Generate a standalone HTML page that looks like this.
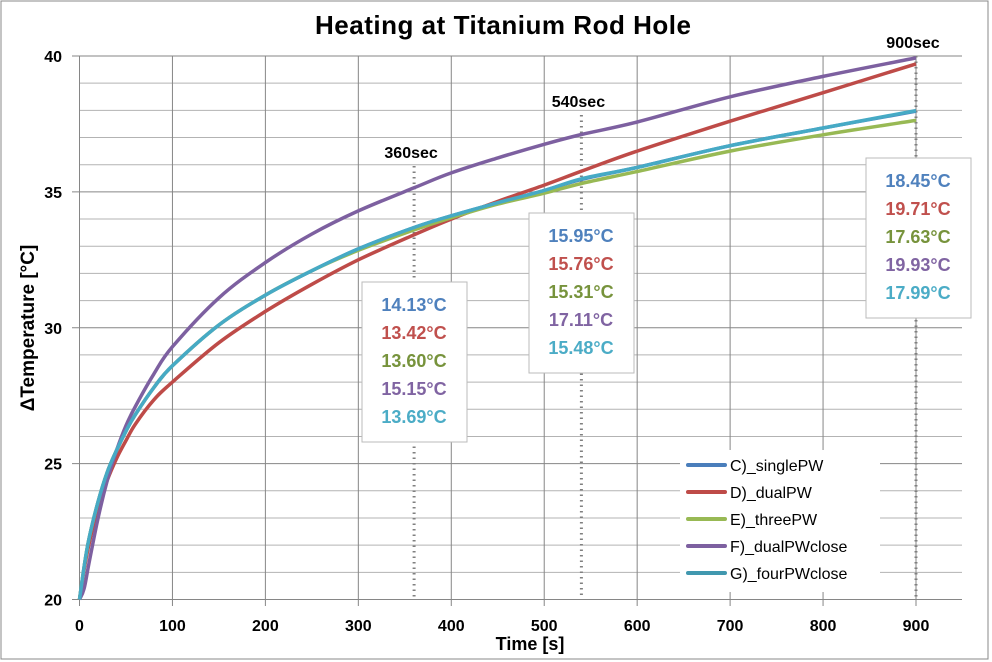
<!DOCTYPE html>
<html><head><meta charset="utf-8"><style>
body{margin:0;background:#fff;}
svg{display:block;font-family:"Liberation Sans",sans-serif;}
</style></head><body>
<svg id="chart" width="992" height="662">
<rect x="1" y="1" width="987" height="658" fill="#fff" stroke="#888"/>
<text x="503" y="34" font-size="26" font-weight="bold" text-anchor="middle" textLength="376">Heating at Titanium Rod Hole</text>
<g id="grid"></g><g id="ticks"></g><g id="annots"></g><g id="series"></g>
<text x="530" y="650" font-size="18" font-weight="bold" text-anchor="middle">Time [s]</text>
<text transform="translate(34,328) rotate(-90)" font-size="19" font-weight="bold" text-anchor="middle">ΔTemperature [°C]</text>
<g id="legend"></g>
</svg>
<script>
const times=[0,5,10,20,30,40,50,60,80,100,150,200,250,300,360,400,450,500,540,600,700,800,900];
const seriesNames=["C)_singlePW","D)_dualPW","E)_threePW","F)_dualPWclose","G)_fourPWclose"];
const seriesC=[20,21.2,22.2,23.6,24.7,25.5,26.2,26.8,27.8,28.6,30.1,31.2,32.1,32.9,33.69,34.12,34.6,35.05,35.46,35.9,36.7,37.35,37.97];
const seriesD=[20,21.1,22.0,23.4,24.4,25.2,25.85,26.45,27.35,28.0,29.45,30.6,31.6,32.5,33.42,34.0,34.65,35.25,35.76,36.5,37.6,38.65,39.71];
const seriesE=[20,21.2,22.2,23.6,24.7,25.5,26.2,26.8,27.8,28.6,30.1,31.2,32.1,32.85,33.6,34.05,34.55,34.95,35.31,35.75,36.5,37.1,37.63];
const seriesF=[20,20.4,21.3,23.0,24.4,25.5,26.4,27.1,28.3,29.3,31.1,32.4,33.45,34.3,35.15,35.7,36.25,36.75,37.11,37.57,38.5,39.25,39.93];
const seriesG=[20,21.2,22.2,23.6,24.7,25.5,26.2,26.8,27.8,28.6,30.1,31.2,32.1,32.9,33.69,34.12,34.6,35.05,35.48,35.9,36.7,37.35,37.99];
const colors=["#4a7ebb","#be4b48","#98b954","#7d60a0","#46aac5"];
const legendColors=["#4a7ebb","#be4b48","#98b954","#7d60a0","#4198af"];
const xTicks=[0,100,200,300,400,500,600,700,800,900];
const yTicks=[20,25,30,35,40];
const markTimes=[360,540,900];
const markLabels=["360sec","540sec","900sec"];
const markValues=[["14.13°C","13.42°C","13.60°C","15.15°C","13.69°C"],["15.95°C","15.76°C","15.31°C","17.11°C","15.48°C"],["18.45°C","19.71°C","17.63°C","19.93°C","17.99°C"]];
const labelColors=["#4f81bd","#c0504d","#77933c","#8064a2","#4bacc6"];
const X=t=>79.5+t*(916-79.5)/900;
const Y=v=>599.5-(v-20)*(599.5-56)/20;
const NS="http://www.w3.org/2000/svg";
function mk(tag,attrs,parent){const e=document.createElementNS(NS,tag);for(const k in attrs)e.setAttribute(k,attrs[k]);parent.appendChild(e);return e;}
function smooth(pts){let d='M'+pts[0][0].toFixed(1)+','+pts[0][1].toFixed(1);
for(let i=0;i<pts.length-1;i++){const p0=pts[Math.max(0,i-1)],p1=pts[i],p2=pts[i+1],p3=pts[Math.min(pts.length-1,i+2)];
const c1x=p1[0]+(p2[0]-p0[0])/6,c1y=p1[1]+(p2[1]-p0[1])/6,c2x=p2[0]-(p3[0]-p1[0])/6,c2y=p2[1]-(p3[1]-p1[1])/6;
d+=` C${c1x.toFixed(1)},${c1y.toFixed(1)} ${c2x.toFixed(1)},${c2y.toFixed(1)} ${p2[0].toFixed(1)},${p2[1].toFixed(1)}`;}
return d;}
const grid=document.getElementById('grid'),ticks=document.getElementById('ticks');
for(let v=20;v<=40;v++){const l=mk('line',{x1:79.5,x2:962,y1:Y(v),y2:Y(v),stroke:v%5==0?'#868686':'#b3b3b3','stroke-width':1},grid);

}
xTicks.forEach(t=>{const l=mk('line',{x1:X(t),x2:X(t),y1:56,y2:606,stroke:'#868686'},grid);


const tx=mk('text',{x:X(t),y:631,'font-size':16,'font-weight':'bold','text-anchor':'middle'},ticks);tx.textContent=t;

});
mk('line',{x1:72,x2:962,y1:599.5,y2:599.5,stroke:'#868686'},grid);
yTicks.forEach(v=>{const l=mk('line',{x1:72,x2:79.5,y1:Y(v),y2:Y(v),stroke:'#868686'},grid);


const tx=mk('text',{x:62,y:Y(v)+6,'font-size':16,'font-weight':'bold','text-anchor':'end'},ticks);tx.textContent=v;

});
const annots=document.getElementById('annots');
const labelY=[158,107,48],boxX=[362,529,866],boxY=[282,213,158];
markTimes.forEach((t,i)=>{
const l=mk('line',{x1:X(t),x2:X(t),y1:labelY[i]+8,y2:599,stroke:'#808080','stroke-width':3,'stroke-dasharray':'1.5 4'},annots);


const tl=mk('text',{x:X(t)-3,y:labelY[i],'font-size':16,'font-weight':'bold','text-anchor':'middle'},annots);tl.textContent=markLabels[i];

});
const series=document.getElementById('series');
[seriesC,seriesD,seriesE,seriesF,seriesG].forEach((s,i)=>{
const pts=s.map((v,j)=>[X(times[j]),Y(v)]);
const p=mk('path',{d:smooth(pts),fill:'none',stroke:colors[i],'stroke-width':3.5,'stroke-linejoin':'round'},series);

});
markTimes.forEach((t,i)=>{
const g=mk('g',{},series);


mk('rect',{x:boxX[i],y:boxY[i],width:105,height:160,fill:'#fff',stroke:'#bbb'},g);
markValues[i].forEach((v,k)=>{const tx=mk('text',{x:boxX[i]+52,y:boxY[i]+29+k*28,'font-size':18,'font-weight':'bold','text-anchor':'middle',fill:labelColors[k]},g);tx.textContent=v;

});});
const lg=document.getElementById('legend');
mk('rect',{x:680,y:450,width:200,height:142,fill:'#fff'},lg);
seriesNames.forEach((n,i)=>{const y=465+i*27;
const e=mk('g',{},lg);


mk('line',{x1:688,x2:725,y1:y,y2:y,stroke:legendColors[i],'stroke-width':4,'stroke-linecap':'round'},e);
const tx=mk('text',{x:730,y:y+6,'font-size':16},e);tx.textContent=n;});
</script>
</body></html>
